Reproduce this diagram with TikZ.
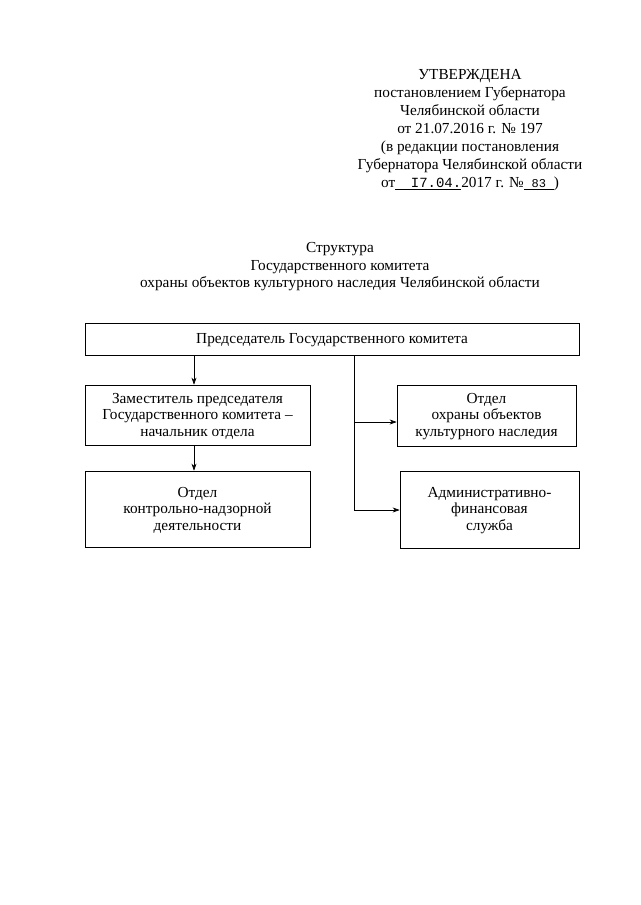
\documentclass[tikz,border=0pt]{standalone}
\usepackage{fontspec}
\setmainfont{Liberation Serif}
\setmonofont{Liberation Mono}
\usetikzlibrary{arrows.meta}
\begin{document}
\begin{tikzpicture}[x=1pt,y=-1pt,
  box/.style={draw,line width=0.7pt,inner sep=0pt},
  lbl/.style={align=center,font=\fontsize{15.3}{16.5}\selectfont},
  conn/.style={line width=0.6pt},
  arr/.style={conn,-{Stealth[length=7pt,width=5pt]}}]
\useasboundingbox (0,0) rectangle (640,905);
\node[lbl,font=\fontsize{15.3}{18}\selectfont] (hdr) at (470,130) {УТВЕРЖДЕНА\\
постановлением Губернатора\\
Челябинской области\\
от 21.07.2016 г. № 197\\
(в редакции постановления\\
Губернатора Челябинской области\\
от\underline{\makebox[66pt]{\hfill\ttfamily\fontsize{14}{17}\selectfont I7.04.}}2017 г. №\underline{\makebox[30pt]{\ttfamily\fontsize{12}{17}\selectfont 83}})};
\node[lbl,font=\fontsize{15.3}{17.5}\selectfont] (title) at (340,267) {Структура\\
Государственного комитета\\
охраны объектов культурного наследия Челябинской области};
\node[box,minimum width=494pt,minimum height=32pt] (chair) at (332,339) {};
\node[lbl] at ([yshift=-1pt]chair.center) {Председатель Государственного комитета};
\node[box,minimum width=225pt,minimum height=60pt] (dep) at (197.5,415) {};
\node[lbl] at ([yshift=-1pt]dep.center) {Заместитель председателя\\Государственного комитета –\\начальник отдела};
\node[box,minimum width=225pt,minimum height=76pt] (kn) at (197.5,509) {};
\node[lbl] at ([yshift=-1pt]kn.center) {Отдел\\контрольно-надзорной\\деятельности};
\node[box,minimum width=179pt,minimum height=61pt] (okn) at (486.5,415.5) {};
\node[lbl] at ([yshift=-1pt]okn.center) {Отдел\\охраны объектов\\культурного наследия};
\node[box,minimum width=179pt,minimum height=77pt] (afs) at (489.5,509.5) {};
\node[lbl] at ([yshift=-1pt]afs.center) {Административно-\\финансовая\\служба};
\coordinate (split) at (354,355);
\coordinate (j1) at (354,422);
\coordinate (j2) at (354,510);
\draw[arr] (194,355) -- (dep.north -| 194,0);
\draw[arr] (194,445) -- (kn.north -| 194,0);
\draw[conn] (split) -- (j2);
\draw[arr] (j1) -- (j1 -| okn.west);
\draw[arr] (j2) -- (j2 -| afs.west);
\end{tikzpicture}
\end{document}
